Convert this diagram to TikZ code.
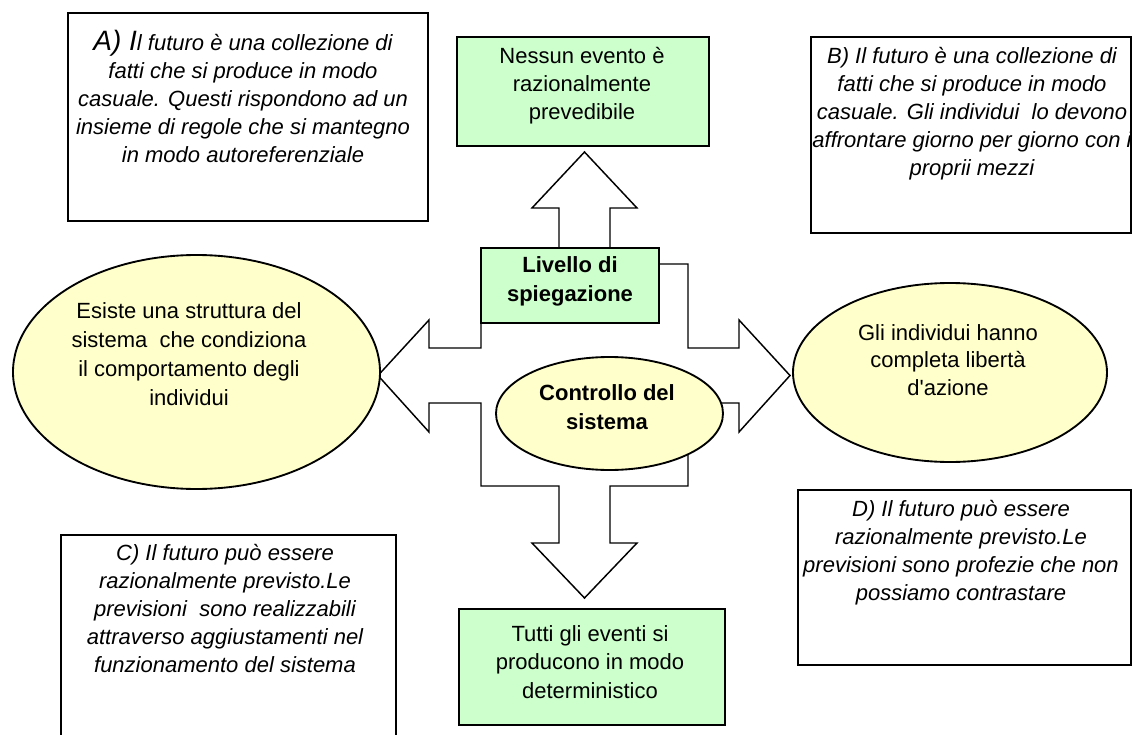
\documentclass[tikz,border=0pt]{standalone}
\usepackage{fontspec}
\setmainfont{Liberation Sans}
\usetikzlibrary{shapes.geometric,fit,positioning}
\definecolor{boxgreen}{RGB}{204,255,204}
\definecolor{ovalyellow}{RGB}{255,255,204}
\tikzset{
notebox/.style={draw, line width=1.5pt, inner sep=0pt}, % white boxes with the four scenarios
greenbox/.style={draw, line width=1.3pt, fill=boxgreen, inner sep=0pt}, % green boxes
ovalnode/.style={ellipse, draw, line width=1.4pt, fill=ovalyellow, inner sep=0pt}, % yellow ovals
txt/.style={align=center, inner sep=0pt, anchor=north, font=\fontsize{16.5}{21}\selectfont},
notetxt/.style={txt, font=\fontsize{16.5}{21}\selectfont\itshape},
boldtxt/.style={txt, font=\fontsize{16.5}{22}\selectfont\bfseries},
}

\begin{document}
\begin{tikzpicture}[x=0.75pt,y=0.75pt,yscale=-1,xscale=1]
\clip (0,0) rectangle (1133,735);
%Quad Arrow
\draw [line width=1.1pt, fill=white] (584.5,152) -- (637,208) -- (610,208) -- (610,264) -- (688,264) -- (688,348) -- (739,348) -- (739,320) -- (790,375.5) -- (739,432) -- (739,403) -- (688,403) -- (688,486) -- (610,486) -- (610,543) -- (637,543) -- (584.5,598) -- (532,543) -- (559,543) -- (559,486) -- (481,486) -- (481,403) -- (429,403) -- (429,432) -- (378,375.5) -- (429,320) -- (429,348) -- (481,348) -- (481,264) -- (559,264) -- (559,208) -- (532,208) -- cycle ;
%Centre
\node [greenbox, fit={(481,248) (659,323)}] (livello) {};
\node [boldtxt] (livellotxt) at (570,256) {Livello di\\spiegazione};
\node [ovalnode, minimum width=170.25pt, minimum height=84.75pt] (controllo) at (609.5,413.5) {};
\node [boldtxt] (controllotxt) at (607,384) {Controllo del\\sistema};
%Ovals
\node [ovalnode, minimum width=275.25pt, minimum height=175.5pt] (struttura) at (196.5,372) {};
\node [txt, font=\fontsize{16.5}{21.75}\selectfont] (strutturatxt) at (189,302) {Esiste una struttura del\\sistema\ \ che condiziona\\il comportamento degli\\individui};
\node [ovalnode, minimum width=235.5pt, minimum height=134.25pt] (liberta) at (950,372.5) {};
\node [txt, font=\fontsize{16.5}{20.6}\selectfont] (libertatxt) at (948,324) {Gli individui hanno\\completa libert\`a\\d\textquotesingle azione};
%Green boxes
\node [greenbox, fit={(457,37) (709,146)}] (nessun) {};
\node [txt] (nessuntxt) at (582,47) {Nessun evento \`e\\razionalmente\\prevedibile};
\node [greenbox, fit={(459,609) (725,725)}] (tutti) {};
\node [txt, font=\fontsize{16.5}{21.4}\selectfont] (tuttitxt) at (590,625) {Tutti gli eventi si\\producono in modo\\deterministico};
%Scenario boxes
\node [notebox, fit={(68,13) (428,221)}] (boxA) {};
\node [notetxt] (txtA) at (243,30) {{\fontsize{21}{21}\selectfont A) I}l futuro \`e una collezione di\\fatti che si produce in modo\\casuale. Questi rispondono ad un\\insieme di regole che si mantegno\\in modo autoreferenziale};
\node [notebox, fit={(811,37) (1131,233)}] (boxB) {};
\node [notetxt] (txtB) at (972,47) {B) Il futuro \`e una collezione di\\fatti che si produce in modo\\casuale. Gli individui\ \ lo devono\\affrontare giorno per giorno con i\\proprii mezzi};
\node [notebox, fit={(61,535) (396,760)}] (boxC) {};
\node [notetxt] (txtC) at (225,544) {C) Il futuro pu\`o essere\\razionalmente previsto.Le\\previsioni\ \ sono realizzabili\\attraverso aggiustamenti nel\\funzionamento del sistema};
\node [notebox, fit={(798,490) (1131,665)}] (boxD) {};
\node [notetxt] (txtD) at (961,500) {D) Il futuro pu\`o essere\\razionalmente previsto.Le\\previsioni sono profezie che non\\possiamo contrastare};
\end{tikzpicture}
\end{document}
